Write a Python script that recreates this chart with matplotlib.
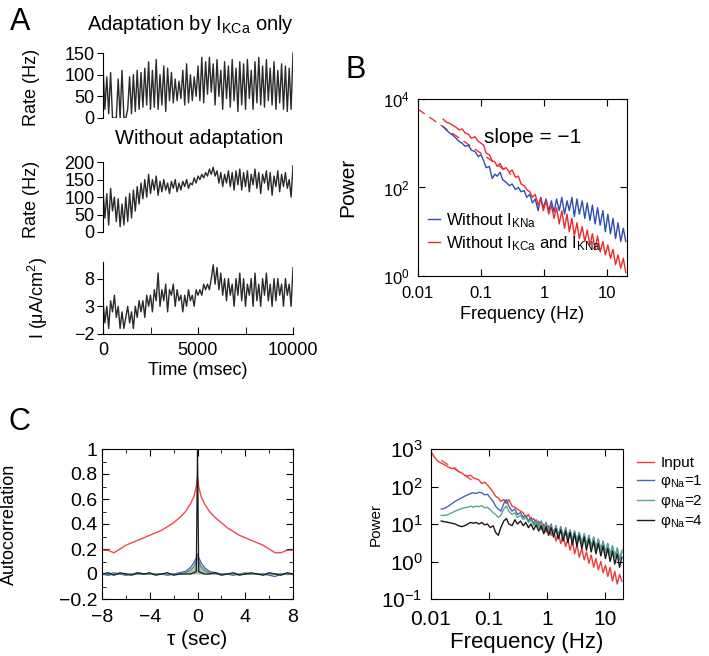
import numpy as np
import matplotlib
matplotlib.use("Agg")
import matplotlib.pyplot as plt

plt.rcParams['font.family'] = ['Liberation Sans', 'DejaVu Sans']
plt.rcParams['mathtext.fontset'] = 'custom'
plt.rcParams['mathtext.rm'] = 'Liberation Sans'
plt.rcParams['mathtext.it'] = 'Liberation Sans:italic'
plt.rcParams['mathtext.default'] = 'regular'

# ---- panel A: firing rates and input current (sampled every 100 ms) ----
rate_kca = [120, 20, 95, 10, 105, 0, 0, 0, 90, 0, 110, 0, 0, 20, 95, 10, 100, 15, 110, 20,
            105, 25, 115, 30, 130, 20, 110, 25, 135, 20, 100, 30, 120, 15, 115, 40, 105, 35, 90, 40,
            85, 45, 110, 30, 125, 35, 100, 40, 95, 50, 120, 40, 140, 35, 130, 55, 140, 60, 125, 30,
            135, 50, 110, 20, 130, 45, 120, 25, 135, 40, 115, 15, 130, 30, 125, 20, 135, 45, 110, 20,
            130, 35, 140, 30, 120, 25, 135, 40, 115, 30, 130, 20, 110, 35, 125, 20, 120, 15, 115, 20, 150]
rate_noadapt = [120, 40, 110, 20, 125, 60, 100, 30, 95, 15, 80, 20, 100, 30, 110, 40, 120, 60, 130, 80,
                140, 95, 150, 100, 165, 110, 150, 120, 160, 105, 145, 115, 150, 120, 140, 110, 145, 125, 150, 115,
                140, 120, 145, 130, 150, 125, 140, 135, 155, 140, 160, 150, 165, 155, 170, 160, 180, 165, 185, 160,
                175, 140, 170, 130, 165, 140, 175, 130, 170, 120, 175, 135, 180, 120, 170, 130, 175, 115, 165, 135,
                180, 125, 170, 110, 165, 140, 175, 120, 170, 105, 160, 130, 175, 115, 165, 130, 170, 125, 150, 100, 190]
current = [4, 0, 3, -1, 4, 2, 5, 1, 3, -1, 2, -1, 1, 3, 0, 2, -1, 3, 1, 4,
           2, 4, 1, 5, 3, 5, 2, 6, 4, 9, 3, 6, 4, 7, 2, 6, 5, 7, 3, 6,
           4, 5, 2, 5, 3, 6, 4, 5, 3, 6, 5, 6, 5, 7, 6, 7, 6, 8, 10.5, 7,
           10, 6, 9, 5, 8, 4, 8, 5, 7, 3, 8, 5, 9, 4, 8, 3, 7, 5, 8, 3,
           9, 4, 7, 3, 8, 5, 9, 4, 7, 3, 8, 4, 8, 5, 7, 3, 8, 5, 7, 3, 10]

# ---- panel B: power spectra ----
freq_b = [0.025, 0.028, 0.032, 0.036, 0.04, 0.045, 0.05, 0.056, 0.063, 0.07,
          0.08, 0.09, 0.1, 0.11, 0.12, 0.135, 0.15, 0.165, 0.18, 0.2,
          0.22, 0.25, 0.28, 0.31, 0.35, 0.39, 0.43, 0.48, 0.53, 0.59,
          0.65, 0.72, 0.8, 0.88, 0.97, 1.07, 1.18, 1.3, 1.43, 1.57,
          1.73, 1.9, 2.1, 2.3, 2.5, 2.75, 3.0, 3.3, 3.6, 4.0,
          4.4, 4.8, 5.3, 5.8, 6.4, 7.0, 7.7, 8.5, 9.3, 10.2,
          11.2, 12.3, 13.5, 14.8, 16.3, 17.9, 19.6]
pow_no_kna = [2400, 2000, 1700, 1500, 1300, 1100, 1000, 850, 900, 700,
              650, 500, 550, 400, 280, 300, 160, 200, 180, 220,
              150, 130, 110, 120, 90, 100, 80, 85, 60, 70,
              45, 55, 30, 60, 35, 55, 30, 50, 28, 55,
              30, 60, 25, 50, 30, 60, 22, 55, 25, 50,
              20, 45, 18, 40, 15, 35, 14, 30, 10, 25,
              9, 20, 7, 16, 6, 12, 6]
pow_no_kca_kna = [3500, 3000, 2800, 2500, 2300, 2000, 2100, 1700, 1600, 1300,
                  1400, 1100, 1000, 900, 600, 550, 400, 380, 300, 350,
                  260, 280, 220, 250, 170, 180, 120, 110, 90, 80,
                  60, 70, 40, 55, 30, 50, 25, 40, 20, 35,
                  15, 30, 12, 25, 10, 20, 8, 16, 7, 13,
                  6, 11, 5, 9, 4, 8, 3.5, 6, 3, 5,
                  2.5, 4, 1.8, 3, 1.5, 2.5, 1.2]
slope_f_b = [0.01, 0.3]
slope_p_b = [5900, 197]

# ---- panel C: autocorrelation ----
tau = [-8, -7.5, -7, -6.5, -6, -5.5, -5, -4.5, -4, -3.5, -3, -2.5, -2, -1.5, -1, -0.6, -0.3, -0.1, 0,
       0.1, 0.3, 0.6, 1, 1.5, 2, 2.5, 3, 3.5, 4, 4.5, 5, 5.5, 6, 6.5, 7, 7.5, 8]
ac_input = [0.19, 0.19, 0.17, 0.20, 0.23, 0.25, 0.27, 0.29, 0.31, 0.33, 0.35, 0.38, 0.41, 0.45, 0.5, 0.56,
            0.62, 0.7, 0.78, 0.7, 0.62, 0.56, 0.5, 0.45, 0.41, 0.37, 0.34, 0.31, 0.29, 0.27, 0.25, 0.23,
            0.2, 0.17, 0.17, 0.19, 0.19]
ac_phi1 = [0.0, -0.01, 0.0, 0.0, -0.01, 0.0, 0.0, 0.0, 0.0, 0.0, 0.0, -0.01, 0.0, 0.01, 0.02, 0.05,
           0.09, 0.13, 0.16, 0.13, 0.09, 0.05, 0.02, 0.01, 0.0, 0.0, -0.01, 0.0, 0.0, 0.0, 0.0, 0.0,
           -0.01, -0.02, 0.0, 0.0, 0.0]
ac_phi2 = [0.0, 0.0, 0.01, 0.0, 0.0, 0.0, 0.01, 0.0, 0.0, 0.0, 0.0, 0.0, 0.0, 0.0, 0.01, 0.03,
           0.06, 0.1, 0.13, 0.1, 0.06, 0.03, 0.01, 0.0, 0.0, 0.0, 0.0, 0.0, 0.01, 0.0, 0.0, 0.0,
           0.0, 0.0, 0.0, 0.0, 0.0]
ac_phi4 = [0.0, 0.01, -0.01, 0.01, 0.0, -0.01, 0.01, 0.0, 0.01, -0.01, 0.0, 0.01, -0.01, 0.0, 0.0, 0.0,
           0.01, 0.02, 1.0, 0.02, 0.01, 0.0, 0.0, 0.01, -0.01, 0.0, 0.01, -0.01, 0.0, 0.01, 0.0, -0.01,
           0.01, 0.0, -0.01, 0.01, 0.0]

# ---- panel C: power spectra ----
freq_c = [0.015, 0.017, 0.02, 0.023, 0.026, 0.03, 0.034, 0.038, 0.043, 0.048,
          0.054, 0.06, 0.067, 0.075, 0.084, 0.094, 0.105, 0.118, 0.13, 0.145,
          0.16, 0.18, 0.2, 0.22, 0.25, 0.28, 0.31, 0.35, 0.39, 0.43,
          0.48, 0.53, 0.59, 0.65, 0.72, 0.8, 0.88, 0.97, 1.07, 1.18,
          1.3, 1.43, 1.57, 1.73, 1.9, 2.1, 2.3, 2.5, 2.75, 3.0,
          3.3, 3.6, 4.0, 4.4, 4.8, 5.3, 5.8, 6.4, 7.0, 7.7,
          8.5, 9.3, 10.2, 11.2, 12.3, 13.5, 14.8, 16.3, 17.9, 19.6]
freq_c_input = [0.0102, 0.0115, 0.013] + freq_c
pow_input = [800, 600, 480,
             420, 380, 330, 300, 310, 250, 230, 200, 190, 200,
             170, 160, 150, 120, 130, 110, 90, 70, 55, 50,
             40, 45, 35, 45, 30, 28, 25, 22, 20, 15,
             18, 12, 14, 10, 12, 7, 10, 6, 9, 5,
             7, 3.5, 6, 3, 5, 2.5, 4, 2, 3.5, 1.6,
             2.8, 1.3, 2.2, 1.1, 1.8, 0.9, 1.5, 0.7, 1.2, 0.6,
             1.0, 0.5, 0.8, 0.4, 0.7, 0.3, 0.55, 0.25, 0.45, 0.3]
pow_phi1 = [25, 26, 30, 35, 40, 45, 50, 55, 60, 65,
            68, 65, 70, 68, 60, 62, 50, 40, 30, 25,
            22, 35, 45, 30, 22, 25, 18, 20, 15, 17,
            12, 15, 10, 13, 9, 12, 7, 11, 6, 10,
            5.5, 9, 5, 8.5, 4.5, 8, 4, 7, 3.8, 6.5,
            3.4, 6, 3, 5.5, 2.8, 5, 2.5, 4.5, 2.2, 4,
            2, 3.5, 1.8, 3, 1.5, 2.6, 1.3, 2.2, 1.1, 1.8]
pow_phi2 = [17, 17, 18, 20, 22, 24, 26, 27, 28, 30,
            28, 30, 29, 31, 27, 28, 24, 20, 18, 15,
            17, 25, 30, 22, 18, 20, 15, 17, 13, 15,
            11, 13, 9, 12, 8, 11, 7, 10, 6, 9,
            5.2, 8.5, 4.8, 8, 4.3, 7.5, 4, 7, 3.6, 6.3,
            3.2, 5.8, 3, 5.3, 2.7, 4.8, 2.4, 4.3, 2.1, 3.8,
            1.9, 3.3, 1.7, 2.9, 1.5, 2.6, 1.3, 2.3, 1.2, 2]
pow_phi4 = [12, 11.5, 11, 10.5, 10, 9, 8.5, 9, 10, 11,
            10.5, 11, 10, 11, 9.5, 10, 8, 9, 6, 5,
            8, 12, 14, 10, 9, 13, 10, 12, 9, 11,
            8, 10, 7, 9.5, 6.5, 9, 5.5, 8.5, 5, 8,
            4.5, 7.5, 4, 7, 3.5, 6.5, 3.2, 6, 2.8, 5.5,
            2.5, 5, 2.2, 4.5, 2, 4, 1.8, 3.5, 1.6, 3,
            1.4, 2.6, 1.2, 2.2, 1, 1.9, 0.85, 1.6, 0.7, 1.3]
slope_f_c = [0.015, 0.05]
slope_p_c = [500, 150]
legend_c = ['Input', r'φ$_{Na}$=1', r'φ$_{Na}$=2', r'φ$_{Na}$=4']

W, H = 709, 656
fig = plt.figure(figsize=(W / 100, H / 100), dpi=100)


def px_axes(left, top, right, bottom):
    return fig.add_axes([left / W, 1 - bottom / H, (right - left) / W, (bottom - top) / H])


t_ms = np.linspace(0, 10000, len(rate_kca))

# A, top
ax1 = px_axes(103, 50, 293, 118)
ax1.plot(t_ms, rate_kca, color='#2a2a2a', lw=1.0)
ax1.set_xlim(0, 10000)
ax1.set_ylim(0, 157)
ax1.set_yticks([0, 50, 100, 150])
# A, middle
ax2 = px_axes(103, 160, 293, 232)
ax2.plot(t_ms, rate_noadapt, color='#2a2a2a', lw=1.0)
ax2.set_xlim(0, 10000)
ax2.set_ylim(0, 206)
ax2.set_yticks([0, 50, 100, 150, 200])
for ax, top in [(ax1, 150), (ax2, 200)]:
    for s in ['top', 'right', 'bottom']:
        ax.spines[s].set_visible(False)
    ax.spines['left'].set_bounds(0, top)
    ax.set_xticks([])
    ax.tick_params(axis='y', direction='out', length=4, labelsize=13, pad=2)
    ax.set_ylabel('Rate (Hz)', fontsize=13)
    ax.yaxis.set_label_coords(-0.33, 0.45)
# A, bottom
ax3 = px_axes(103, 262, 293, 334)
ax3.plot(t_ms, current, color='#2a2a2a', lw=1.0)
ax3.set_xlim(0, 10000)
ax3.set_ylim(-2, 11)
ax3.set_yticks([-2, 3, 8])
ax3.set_yticklabels(['\u22122', '3', '8'])
ax3.set_xticks([0, 5000, 10000])
ax3.set_xticks([2500, 7500], minor=True)
for s in ['top', 'right']:
    ax3.spines[s].set_visible(False)
ax3.spines['bottom'].set_bounds(0, 10000)
ax3.tick_params(axis='y', direction='out', length=4, labelsize=13, pad=2)
ax3.tick_params(axis='x', which='both', direction='in', length=5, labelsize=13, pad=6)
ax3.set_xlabel('Time (msec)', fontsize=13, labelpad=2)
ax3.set_ylabel('I (μA/cm$^2$)', fontsize=13)
ax3.yaxis.set_label_coords(-0.28, 0.5)

fig.text(10 / W, 1 - 22 / H, 'A', fontsize=22, va='center', ha='left')
fig.text(190 / W, 1 - 24 / H, 'Adaptation by I$_{KCa}$ only', fontsize=14.5, ha='center', va='center')
fig.text(199 / W, 1 - 139 / H, 'Without adaptation', fontsize=14.5, ha='center', va='center')

# B
axb = px_axes(418, 99, 627, 276)
axb.plot(slope_f_b, slope_p_b, color='#ee3333', lw=1.0, ls=(0, (6, 4)))
axb.plot(freq_b, pow_no_kna, color='#2f4db0', lw=1.0, label='Without I$_{KNa}$')
axb.plot(freq_b, pow_no_kca_kna, color='#ee2a2a', lw=1.0, label='Without I$_{KCa}$ and I$_{KNa}$')
axb.set_xscale('log')
axb.set_yscale('log')
axb.set_xlim(0.01, 20.5)
axb.set_ylim(1, 1e4)
axb.set_xticks([0.01, 0.1, 1, 10])
axb.set_xticklabels(['0.01', '0.1', '1', '10'])
axb.set_yticks([1, 1e2, 1e4])
axb.minorticks_off()
axb.tick_params(which='both', direction='in', top=True, right=True, length=5, labelsize=12)
axb.tick_params(axis='x', pad=7)
axb.tick_params(axis='y', pad=6)
axb.set_xlabel('Frequency (Hz)', fontsize=13, labelpad=4)
axb.set_ylabel('Power', fontsize=15)
axb.yaxis.set_label_coords(-0.29, 0.5)
axb.text(0.55, 0.78, 'slope = \u22121', transform=axb.transAxes, fontsize=15, ha='center', va='center')
axb.legend(loc='lower left', bbox_to_anchor=(0.0, 0.075), frameon=False, fontsize=12,
           handlelength=0.7, handletextpad=0.35, labelspacing=0.25, borderaxespad=0.2)
fig.text(345 / W, 1 - 70 / H, 'B', fontsize=22, va='center', ha='left')

# C, autocorrelation
axc = px_axes(102, 449, 293, 599)
axc.fill_between(tau, ac_phi2, 0, color='#6f9682', alpha=0.6, lw=0)
axc.plot(tau, ac_input, color='#ef4a4a', lw=1.0)
axc.plot(tau, ac_phi1, color='#4a63b8', lw=1.0)
axc.plot(tau, ac_phi2, color='#4f9a78', lw=1.0)
axc.plot(tau, ac_phi4, color='#1a1a1a', lw=0.9)
axc.set_xlim(-8, 8)
axc.set_ylim(-0.2, 1)
axc.set_xticks([-8, -4, 0, 4, 8])
axc.set_xticklabels(['\u22128', '\u22124', '0', '4', '8'])
axc.set_xticks([-6, -2, 2, 6], minor=True)
axc.set_yticks([-0.2, 0, 0.2, 0.4, 0.6, 0.8, 1])
axc.set_yticklabels(['\u22120.2', '0', '0.2', '0.4', '0.6', '0.8', '1'])
axc.set_yticks([-0.1, 0.1, 0.3, 0.5, 0.7, 0.9], minor=True)
axc.tick_params(which='major', direction='in', top=True, right=True, length=5, labelsize=14)
axc.tick_params(which='minor', direction='in', top=True, right=True, length=3)
axc.tick_params(axis='x', which='major', pad=7)
axc.set_xlabel('τ (sec)', fontsize=15, labelpad=3)
axc.set_ylabel('Autocorrelation', fontsize=13)
axc.yaxis.set_label_coords(-0.44, 0.5)
fig.text(8 / W, 1 - 422 / H, 'C', fontsize=22, va='center', ha='left')

# C, power spectra
axd = px_axes(431, 449, 623, 599)
axd.plot(slope_f_c, slope_p_c, color='#ef4a4a', lw=1.0, ls=(0, (6, 4)))
l_in, = axd.plot(freq_c_input, pow_input, color='#ef3a3a', lw=1.0)
l_1, = axd.plot(freq_c, pow_phi1, color='#4a63b8', lw=1.0)
l_2, = axd.plot(freq_c, pow_phi2, color='#5aa88a', lw=1.0)
l_4, = axd.plot(freq_c, pow_phi4, color='#1a1a1a', lw=1.0)
axd.set_xscale('log')
axd.set_yscale('log')
axd.set_xlim(0.01, 20.5)
axd.set_ylim(0.1, 1000)
axd.set_xticks([0.01, 0.1, 1, 10])
axd.set_xticklabels(['0.01', '0.1', '1', '10'])
axd.set_yticks([0.1, 1, 10, 100, 1000])
axd.minorticks_off()
axd.tick_params(which='both', direction='in', top=True, right=True, length=5, labelsize=15)
axd.tick_params(axis='x', pad=8)
axd.tick_params(axis='y', pad=6)
axd.set_xlabel('Frequency (Hz)', fontsize=16, labelpad=2)
axd.set_ylabel('Power', fontsize=11)
axd.yaxis.set_label_coords(-0.25, 0.5)
axd.legend([l_in, l_1, l_2, l_4], legend_c, loc='upper left', bbox_to_anchor=(1.04, 0.995),
           frameon=False, fontsize=11, handlelength=1.1, handletextpad=0.45,
           labelspacing=0.2, borderaxespad=0.0)

fig.savefig('out.png', dpi=100)
